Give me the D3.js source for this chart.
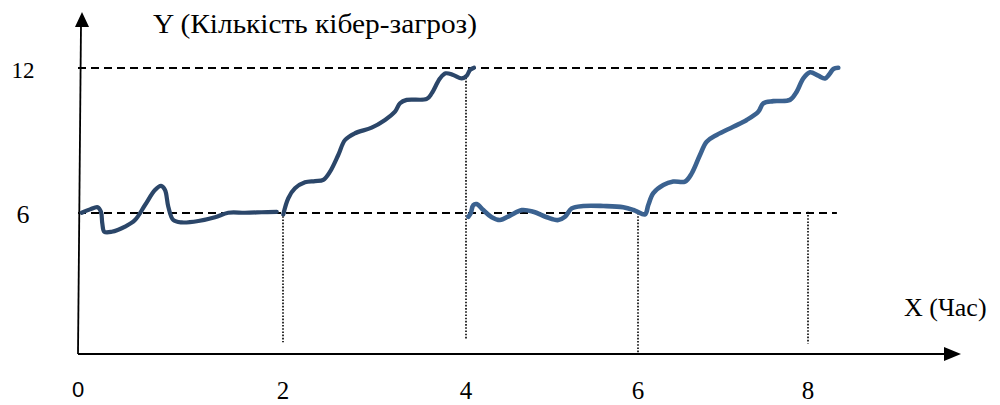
<!DOCTYPE html>
<html>
<head>
<meta charset="utf-8">
<script src="https://cdn.jsdelivr.net/npm/d3@7/dist/d3.min.js"></script>
<style>
  html, body { margin: 0; padding: 0; background: #ffffff; }
  svg { display: block; }
</style>
</head>
<body>
<svg id="chart" width="1000" height="405"></svg>
<script>
// ---- data ----
const xTicks = [0, 2, 4, 6, 8];
const xTickLabels = ["0", "2", "4", "6", "8"];
const yTicks = [6, 12];
const yTickLabels = ["6", "12"];
const xTitle = "X (Час)";
const yTitle = "Y (Кількість кібер-загроз)";

// segment 1: calm period, hour 0 to ~2
const seg1X = [0.036, 0.117, 0.192, 0.224, 0.237, 0.257, 0.329, 0.459, 0.556, 0.654, 0.751, 0.810, 0.849, 0.881, 0.930, 1.012, 1.174, 1.337, 1.466, 1.629, 1.792, 1.939];
const seg1Y = [6.01, 6.15, 6.24, 6.05, 5.56, 5.20, 5.20, 5.42, 5.70, 6.33, 6.95, 7.12, 6.95, 6.26, 5.70, 5.60, 5.66, 5.82, 6.01, 6.01, 6.03, 6.05];
// segment 2: attack growth, hour 2 to ~4
const seg2X = [2.003, 2.058, 2.131, 2.240, 2.350, 2.440, 2.514, 2.604, 2.678, 2.787, 2.969, 3.115, 3.224, 3.279, 3.352, 3.571, 3.625, 3.716, 3.778, 3.861, 3.953, 4.008, 4.047, 4.093];
const seg2Y = [5.94, 6.61, 7.02, 7.27, 7.32, 7.37, 7.71, 8.40, 9.02, 9.30, 9.53, 9.85, 10.19, 10.54, 10.68, 10.72, 10.95, 11.57, 11.78, 11.71, 11.57, 11.68, 11.92, 12.01];
// segment 3: repeat cycle, hour 4 to ~8.4
const seg3X = [4.027, 4.055, 4.085, 4.124, 4.201, 4.299, 4.395, 4.512, 4.648, 4.783, 4.939, 5.073, 5.151, 5.229, 5.364, 5.597, 5.829, 5.965, 6.082, 6.121, 6.180, 6.298, 6.415, 6.553, 6.632, 6.729, 6.808, 6.926, 7.121, 7.279, 7.415, 7.474, 7.592, 7.788, 7.867, 7.945, 8.024, 8.121, 8.200, 8.251, 8.298, 8.356];
const seg3Y = [5.84, 5.99, 6.33, 6.37, 6.12, 5.82, 5.70, 5.89, 6.12, 6.05, 5.82, 5.70, 5.84, 6.19, 6.29, 6.29, 6.24, 6.10, 5.94, 6.33, 6.82, 7.16, 7.30, 7.30, 7.64, 8.40, 8.95, 9.23, 9.57, 9.85, 10.19, 10.54, 10.63, 10.68, 11.02, 11.57, 11.82, 11.68, 11.57, 11.74, 11.96, 12.01];

// dashed reference levels and dotted hour markers
const refLevels = [6, 12];
const refLevelEnd = 8.34;
const markerHours = [2, 4, 6, 8];
const markerFrom = [6, 11.6, 6, 6.05];
const markerTo = [0.5, 0.65, 0, 0.45];

// ---- scales ----
const svg = d3.select("#chart");
const x = d3.scaleLinear().domain([0, 2, 4, 6, 8]).range([78, 283, 466, 638, 808]);
const y = d3.scaleLinear().domain([0, 6, 12]).range([354, 213, 68]);

const serif = "'Liberation Serif', 'Times New Roman', serif";

// dashed horizontal levels
svg.append("g").selectAll("line").data(refLevels).join("line")
  .attr("x1", x(0)).attr("x2", x(refLevelEnd))
  .attr("y1", d => y(d)).attr("y2", d => y(d))
  .attr("stroke", "#000").attr("stroke-width", 2)
  .attr("stroke-dasharray", "8,5");

// dotted verticals
svg.append("g").selectAll("line").data(markerHours).join("line")
  .attr("x1", d => x(d)).attr("x2", d => x(d))
  .attr("y1", (d, i) => y(markerFrom[i])).attr("y2", (d, i) => y(markerTo[i]))
  .attr("stroke", "#000").attr("stroke-width", 1.6)
  .attr("stroke-dasharray", "1.6,1.6");

// axes
const axes = svg.append("g");
axes.append("line")
  .attr("x1", x(0)).attr("y1", y(0)).attr("x2", x(0) + 3).attr("y2", 24)
  .attr("stroke", "#000").attr("stroke-width", 1.8);
axes.append("path")
  .attr("d", `M${x(0) + 4},12 L${x(0) - 3},27 L${x(0) + 11},27 Z`)
  .attr("fill", "#000");
axes.append("line")
  .attr("x1", x(0)).attr("y1", y(0)).attr("x2", 948).attr("y2", y(0))
  .attr("stroke", "#000").attr("stroke-width", 2.2);
axes.append("path")
  .attr("d", `M961,${y(0)} L944,${y(0) - 7} L944,${y(0) + 7} Z`)
  .attr("fill", "#000");

// tick labels
svg.append("g").selectAll("text").data(xTicks).join("text")
  .attr("x", d => x(d))
  .attr("y", d => d === 0 ? 397 : 399)
  .attr("text-anchor", "middle")
  .attr("font-family", d => d === 0 ? "'Liberation Sans', Arial, sans-serif" : serif)
  .attr("font-size", d => d === 0 ? 22 : 25)
  .attr("fill", "#000")
  .text((d, i) => xTickLabels[i]);

svg.append("g").selectAll("text").data(yTicks).join("text")
  .attr("x", 23)
  .attr("y", d => y(d) + 10)
  .attr("text-anchor", "middle")
  .attr("font-family", serif)
  .attr("font-size", d => d === 12 ? 23 : 26)
  .attr("fill", "#000")
  .text((d, i) => yTickLabels[i]);

// titles
svg.append("text")
  .attr("x", 153).attr("y", 33)
  .attr("font-family", serif).attr("font-size", 27)
  .attr("fill", "#000")
  .attr("textLength", 324).attr("lengthAdjust", "spacingAndGlyphs")
  .text(yTitle);
svg.append("text")
  .attr("x", 904).attr("y", 316)
  .attr("font-family", serif).attr("font-size", 26)
  .attr("fill", "#000")
  .text(xTitle);

// curves
const line = d3.line()
  .x(d => x(d[0])).y(d => y(d[1]))
  .curve(d3.curveCatmullRom.alpha(0.5));

const defs = svg.append("defs");
defs.append("filter").attr("id", "soft")
  .attr("x", "-5%").attr("y", "-5%").attr("width", "110%").attr("height", "110%")
  .append("feGaussianBlur").attr("stdDeviation", 0.7);

const seg1 = seg1X.map((v, i) => [v, seg1Y[i]]);
const seg2 = seg2X.map((v, i) => [v, seg2Y[i]]);
const seg3 = seg3X.map((v, i) => [v, seg3Y[i]]);

svg.append("path").datum(seg1).attr("d", line)
  .attr("fill", "none").attr("stroke", "#2b4669").attr("stroke-width", 4.2)
  .attr("stroke-linecap", "round").attr("stroke-linejoin", "round");
svg.append("path").datum(seg2).attr("d", line)
  .attr("fill", "none").attr("stroke", "#2b4669").attr("stroke-width", 4.2)
  .attr("stroke-linecap", "round").attr("stroke-linejoin", "round");
svg.append("path").datum(seg3).attr("d", line)
  .attr("fill", "none").attr("stroke", "#3b6290").attr("stroke-width", 4.6)
  .attr("stroke-linecap", "round").attr("stroke-linejoin", "round")
  .attr("filter", "url(#soft)");
</script>
</body>
</html>
